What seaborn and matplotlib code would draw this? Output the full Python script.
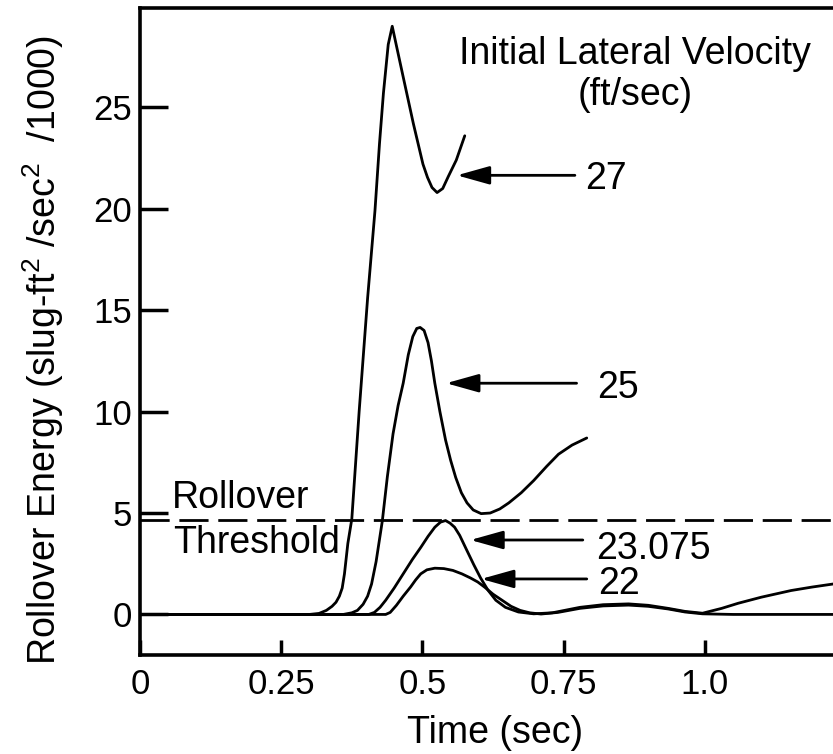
import pandas as pd
import seaborn as sns
import matplotlib.pyplot as plt

# Curvas: tiempo (s) y energia de vuelco (/1000)
t_27 = [0, 0.30, 0.317, 0.330, 0.340, 0.347, 0.353, 0.358, 0.362, 0.368, 0.375, 0.388, 0.403,
        0.416, 0.424, 0.431, 0.4395, 0.4466, 0.452, 0.466, 0.484, 0.501, 0.509, 0.517,
        0.526, 0.536, 0.546, 0.560, 0.575]
e_27 = [0, 0, 0.05, 0.2, 0.4, 0.6, 0.9, 1.3, 2.0, 3.5, 4.7, 10.0, 15.6,
        19.9, 23.2, 25.7, 28.1, 29.0, 28.3, 26.5, 24.2, 22.2, 21.55, 21.05,
        20.8, 21.0, 21.6, 22.4, 23.6]

t_25 = [0, 0.36, 0.375, 0.385, 0.395, 0.403, 0.410, 0.418, 0.429, 0.438, 0.448, 0.457, 0.466,
        0.475, 0.483, 0.490, 0.496, 0.503, 0.510, 0.516, 0.522, 0.531, 0.541, 0.550, 0.559,
        0.569, 0.579, 0.590, 0.604, 0.620, 0.637, 0.653, 0.675, 0.697, 0.720, 0.741, 0.765, 0.791]
e_25 = [0, 0, 0.08, 0.2, 0.5, 0.9, 1.5, 2.6, 4.6, 6.8, 8.9, 10.3, 11.4,
        12.8, 13.7, 14.1, 14.15, 14.0, 13.4, 12.5, 11.4, 10.0, 8.6, 7.6, 6.75,
        6.0, 5.5, 5.15, 4.97, 5.0, 5.2, 5.5, 6.0, 6.6, 7.3, 7.9, 8.35, 8.7]

t_23 = [0, 0.405, 0.415, 0.425, 0.435, 0.450, 0.466, 0.482, 0.497, 0.510, 0.522, 0.532, 0.541,
        0.549, 0.557, 0.566, 0.578, 0.591, 0.603, 0.616, 0.630, 0.647, 0.670, 0.697, 0.730,
        0.779, 0.820, 0.865, 0.900, 0.935, 0.965, 0.996, 1.030, 1.059, 1.100, 1.153, 1.190, 1.227]
e_23 = [0, 0, 0.1, 0.35, 0.7, 1.3, 2.0, 2.7, 3.3, 3.85, 4.3, 4.55, 4.63,
        4.5, 4.3, 3.9, 3.2, 2.45, 1.8, 1.2, 0.7, 0.35, 0.12, 0.03, 0.08,
        0.35, 0.48, 0.52, 0.45, 0.3, 0.15, 0.06, 0.3, 0.55, 0.85, 1.18, 1.35, 1.5]

t_22 = [0, 0.435, 0.443, 0.454, 0.466, 0.479, 0.488, 0.497, 0.508, 0.522, 0.538, 0.554, 0.570,
        0.585, 0.598, 0.610, 0.625, 0.641, 0.657, 0.673, 0.690, 0.710, 0.740, 0.779, 0.820,
        0.865, 0.900, 0.935, 0.965, 0.996, 1.050, 1.227]
e_22 = [0, 0, 0.1, 0.45, 0.9, 1.35, 1.7, 2.0, 2.2, 2.28, 2.26, 2.17, 2.0,
        1.8, 1.6, 1.35, 1.0, 0.7, 0.4, 0.2, 0.08, 0.02, 0.1, 0.3, 0.42,
        0.46, 0.4, 0.27, 0.12, 0.03, 0.0, 0.0]

velocities = ['27', '25', '23.075', '22']
threshold = 4.65

# etiquetas y flechas
label_x = [0.788, 0.809, 0.807, 0.812]
label_y = [21.0, 10.67, 2.73, 1.0]
tip_x = [0.561, 0.542, 0.585, 0.604]
tip_y = [21.65, 11.4, 3.67, 1.75]
tail_x = [0.770, 0.773, 0.784, 0.791]

x_ticks = [0, 0.25, 0.5, 0.75, 1.0]
x_ticklabels = ['0', '0.25', '0.5', '0.75', '1.0']
y_ticks = [0, 5, 10, 15, 20, 25]

frames = []
for v, t, e in zip(velocities, [t_27, t_25, t_23, t_22], [e_27, e_25, e_23, e_22]):
    frames.append(pd.DataFrame({'time': t, 'energy': e, 'velocity': v}))
df = pd.concat(frames, ignore_index=True)

sns.set_style('ticks', {'text.color': 'black', 'axes.labelcolor': 'black',
                        'axes.edgecolor': 'black', 'xtick.color': 'black',
                        'ytick.color': 'black'})
plt.rcParams['font.family'] = ['Liberation Sans', 'DejaVu Sans']
plt.rcParams['mathtext.fontset'] = 'custom'
plt.rcParams['mathtext.rm'] = 'Liberation Sans'
plt.rcParams['lines.scale_dashes'] = False

fig = plt.figure(figsize=(8.33, 7.54), dpi=100)
ax = fig.add_axes([140 / 833, 1 - 655 / 754, 693 / 833, 647 / 754])

sns.lineplot(data=df, x='time', y='energy', units='velocity', estimator=None,
             sort=False, color='black', lw=2, ax=ax)
ax.axhline(threshold, color='black', lw=2, dashes=(21, 7))

ax.set_xlim(0, 1.227)
ax.set_ylim(-2.0, 29.9)
ax.set_xticks(x_ticks)
ax.set_xticklabels(x_ticklabels)
ax.set_yticks(y_ticks)

for s in ['left', 'top', 'bottom']:
    ax.spines[s].set_linewidth(2.6)
    ax.spines[s].set_color('black')
ax.spines['right'].set_visible(False)

ax.tick_params(axis='y', direction='in', length=20, width=2.5, pad=6, labelsize=25,
               colors='black')
ax.tick_params(axis='x', direction='in', length=11, width=2.5, pad=9, labelsize=25,
               colors='black')

ax.set_xlabel('Time (sec)', fontsize=27, color='black')
ax.xaxis.set_label_coords(0.512, -0.092)
ax.set_ylabel(r'Rollover Energy (slug-ft$^2$ /sec$^2$  /1000)', fontsize=27, color='black')
ax.yaxis.set_label_coords(-0.107, 0.471)

ax.text(0.876, 27.15, 'Initial Lateral Velocity', ha='center', va='baseline', fontsize=27,
        color='black')
ax.text(0.876, 25.1, '(ft/sec)', ha='center', va='baseline', fontsize=27, color='black')
ax.text(0.057, 5.25, 'Rollover', ha='left', va='baseline', fontsize=27, color='black')
ax.text(0.058, 3.03, 'Threshold', ha='left', va='baseline', fontsize=27, color='black')

for txt, lx, ly, hx, hy, tx in zip(velocities, label_x, label_y, tip_x, tip_y, tail_x):
    ax.annotate('', xy=(hx, hy), xytext=(tx, hy),
                arrowprops=dict(arrowstyle='-|>,head_length=1.0,head_width=0.28',
                                mutation_scale=20, color='black', lw=2,
                                shrinkA=0, shrinkB=0))
    ax.text(lx, ly, txt, ha='left', va='baseline', fontsize=27, color='black')

fig.savefig('out.png', dpi=100)
